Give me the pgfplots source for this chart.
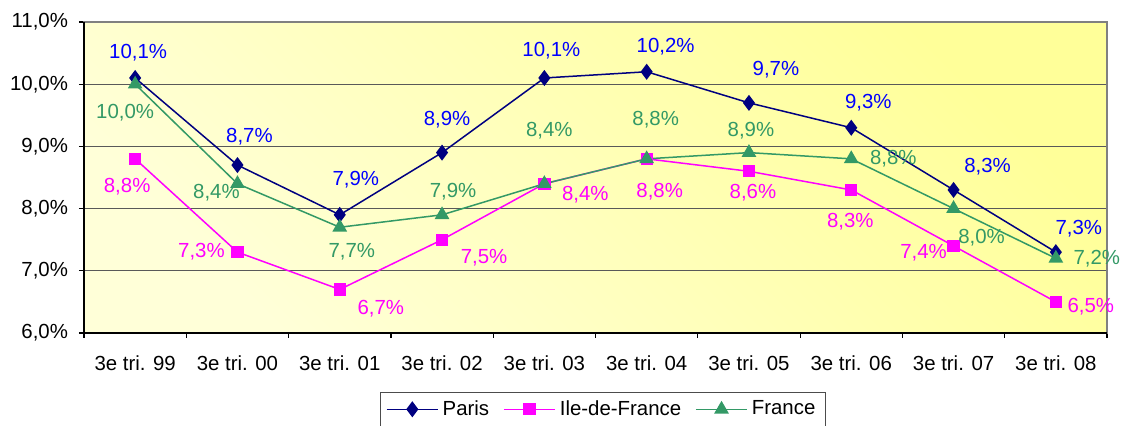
\documentclass[border=0pt]{standalone}
\usepackage{fontspec}
\setmainfont{Liberation Sans}
\usepackage{pgfplots}
\usepackage{pgfplotstable}
\pgfplotsset{compat=1.18}
\definecolor{parisline}{HTML}{000080}
\definecolor{parislab}{HTML}{0000FF}
\definecolor{idf}{HTML}{FF00FF}
\definecolor{fr}{HTML}{339966}
\definecolor{bgtop}{HTML}{FFFF99}
\definecolor{bgbot}{HTML}{FFFFD8}

\pgfplotstableread{
x y lab dx dy
0 10.1 10,1 1.5 12.5
1 8.7 8,7 6 14
2 7.9 7,9 8 17.5
3 8.9 8,9 2.5 16.5
4 10.1 10,1 3.5 13.5
5 10.2 10,2 9.5 12.5
6 9.7 9,7 13.5 16.5
7 9.3 9,3 8.5 12.5
8 8.3 8,3 17 11.5
9 7.3 7,3 11.5 11.5
}\paris

\pgfplotstableread{
x y lab dx dy
0 8.8 8,8 -4 -14
1 7.3 7,3 -18 0
2 6.7 6,7 20.5 -9.5
3 7.5 7,5 21 -9
4 8.4 8,4 20.5 -5.5
5 8.8 8,8 6.5 -16.5
6 8.6 8,6 2 -10.5
7 8.3 8,3 -0.5 -16
8 7.4 7,4 -15 -3.5
9 6.5 6,5 17.5 -2.5
}\idf

\pgfplotstableread{
x y lab dx dy
0 10.0 10,0 -5 -14
1 8.4 8,4 -10.5 -4.5
2 7.7 7,7 6 -12
3 7.9 7,9 5.5 11.5
4 8.4 8,4 2.5 26.5
5 8.8 8,8 4.5 19.5
6 8.9 8,9 1 11
7 8.8 8,8 21 0
8 8.0 8,0 14 -14.5
9 7.2 7,2 20.5 0
}\france

\begin{document}
\begin{tikzpicture}
\useasboundingbox (-42pt,-46.5pt) rectangle (520pt,166.5pt);
\begin{axis}[
  scale only axis,
  width=511.5pt, height=155.5pt,
  xmin=-0.5, xmax=9.5, ymin=6, ymax=11,
  clip=false,
  font=\fontsize{10.2}{12}\selectfont,
  xtick={0,...,9},
  xticklabels={3e tri. 99,3e tri. 00,3e tri. 01,3e tri. 02,3e tri. 03,3e tri. 04,3e tri. 05,3e tri. 06,3e tri. 07,3e tri. 08},
  minor xtick={-0.5,0.5,...,9.5},
  major x tick style={draw=none},
  ytick={6,...,11},
  yticklabels={{6,0\%},{7,0\%},{8,0\%},{9,0\%},{10,0\%},{11,0\%}},
  tick align=outside,
  tick pos=left,
  major tick length=2.5pt,
  minor tick length=2.5pt,
  tick style={black, line width=0.6pt},
  xticklabel style={yshift=-5.5pt},
  yticklabel style={xshift=-2pt},
  ymajorgrids,
  grid style={black!65, line width=0.6pt},
  axis line style={draw=black!50, line width=0.9pt},
  axis background/.style={shade, top color=bgtop, bottom color=bgbot, shading angle=-45},
  point meta=explicit symbolic,
  visualization depends on={\thisrow{dx}\as\dx},
  visualization depends on={\thisrow{dy}\as\dy},
  nodes near coords={\pgfplotspointmeta\%},
  every node near coord/.append style={anchor=center, xshift=\dx pt, yshift=\dy pt, font=\fontsize{10.2}{12}\selectfont},
  legend columns=3,
  legend style={at={(axis description cs:0.507,0)}, anchor=north, yshift=-29.5pt,
    draw=black!70, fill=white, font=\fontsize{10.2}{12}\selectfont,
    /tikz/every even column/.append style={column sep=5pt}},
  legend image code/.code={\draw[mark repeat=2,mark phase=2,#1] plot coordinates {(0cm,0cm) (0.45cm,0cm) (0.9cm,0cm)};},
]
\addplot[color=parisline, line width=0.75pt, mark=diamond*, mark size=3.4pt, mark options={fill=parisline, solid},
  every node near coord/.append style={text=parislab}]
  table[x=x, y=y, meta=lab]{\paris};
\addlegendentry{Paris}
\addplot[color=idf, line width=0.75pt, mark=square*, mark size=2.7pt, mark options={fill=idf, solid},
  every node near coord/.append style={text=idf}]
  table[x=x, y=y, meta=lab]{\idf};
\addlegendentry{Ile-de-France}
\addplot[color=fr, line width=0.75pt, mark=triangle*, mark size=3.5pt, mark options={fill=fr, solid},
  every node near coord/.append style={text=fr}]
  table[x=x, y=y, meta=lab]{\france};
\addlegendentry{France}
\draw[black, line width=0.9pt] (rel axis cs:0,1) -- (rel axis cs:0,0) -- (rel axis cs:1,0);
\end{axis}
\end{tikzpicture}
\end{document}
